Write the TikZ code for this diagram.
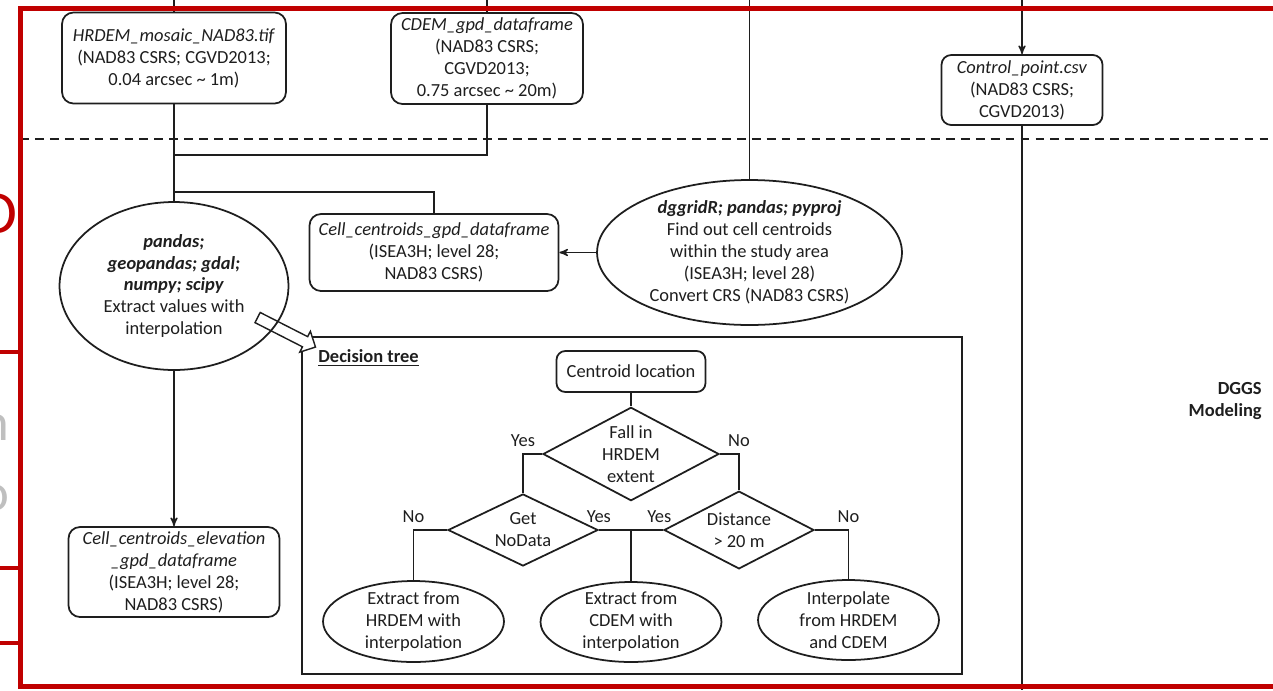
\documentclass[tikz,border=0pt]{standalone}
\usepackage{fontspec}
\setmainfont{Carlito}
\usepackage{tikz}
\usetikzlibrary{arrows,shapes,shapes.geometric,shapes.arrows}
\definecolor{framered}{RGB}{192,0,0}
\definecolor{ink}{RGB}{30,30,30}

\begin{document}
\begin{tikzpicture}[x=0.02cm,y=-0.02cm,>=stealth']
  \tikzstyle{every node}=[font=\fontsize{10.5}{12.5}\selectfont,text=ink]
  \tikzstyle{data}=[rectangle,rounded corners=6.5pt,draw=ink,line width=1pt,align=center,inner sep=0pt]
  \tikzstyle{process}=[ellipse,draw=ink,line width=1pt,align=center,inner sep=-3pt]
  \tikzstyle{check}=[diamond,draw=ink,line width=1pt,align=center,inner sep=-3pt]
  \tikzstyle{link}=[draw=ink,line width=0.8pt]
  \tikzstyle{tag}=[above=4pt,inner sep=0pt]
  \useasboundingbox (0,0) rectangle (1273,690);

  \coordinate (hrdemin) at (174,0);
  \coordinate (cdemin) at (487,0);
  \coordinate (gridin) at (749.5,0);
  \coordinate (ctrlin) at (1022,0);
  \coordinate (ctrlout) at (1022,690);
  \coordinate (join1) at (174,155);
  \coordinate (join2) at (174,192);

  \draw[draw=ink,line width=1pt,dash pattern=on 5pt off 3.5pt] (20,139) -- (1273,139);

  \node [data,minimum width=4.48cm,minimum height=1.82cm] (hrdem) at (174,58)
    {\textit{HRDEM\_mosaic\_NAD83.tif}\\(NAD83 CSRS; CGVD2013;\\0.04 arcsec \textasciitilde{} 1m)};
  \node [data,minimum width=3.84cm,minimum height=1.82cm] (cdem) at (487,58.5)
    {\textit{CDEM\_gpd\_dataframe}\\(NAD83 CSRS;\\CGVD2013;\\0.75 arcsec \textasciitilde{} 20m)};
  \node [data,rounded corners=5.5pt,minimum width=3.22cm,minimum height=1.4cm] (ctrl) at (1022,90)
    {\textit{Control\_point.csv}\\(NAD83 CSRS;\\CGVD2013)};
  \node [data,minimum width=4.98cm,minimum height=1.54cm] (cellgpd) at (434,252.5)
    {\textit{Cell\_centroids\_gpd\_dataframe}\\(ISEA3H; level 28;\\NAD83 CSRS)};
  \node [process,minimum width=6.1cm,minimum height=2.9cm] (grid) at (749.5,252.5)
    {\textbf{\textit{dggridR; pandas; pyproj}}\\Find out cell centroids\\within the study area\\(ISEA3H; level 28)\\Convert CRS (NAD83 CSRS)};

  \draw[draw=ink,line width=0.8pt] (302,337) rectangle (962,674);
  \node [single arrow,draw=ink,line width=0.8pt,fill=white,minimum height=1.3cm,
         single arrow head extend=0.12cm,inner sep=0.1cm,rotate=-27] (hint) at (284,331) {};

  \node [process,minimum width=4.58cm,minimum height=3.36cm] (extract) at (174,286)
    {\textbf{\textit{pandas;}}\\\textbf{\textit{geopandas; gdal;}}\\\textbf{\textit{numpy; scipy}}\\Extract values with\\interpolation};
  \node [data,minimum width=4.22cm,minimum height=1.8cm] (elev) at (174,572)
    {\textit{Cell\_centroids\_elevation}\\\textit{\_gpd\_dataframe}\\(ISEA3H; level 28;\\NAD83 CSRS)};

  \node [anchor=west,inner sep=0pt] (treetitle) at (318,358) {\underline{\textbf{Decision tree}}};
  \node [data,rounded corners=5pt,minimum width=2.98cm,minimum height=0.82cm] (cloc) at (631,371.5) {Centroid location};
  \node [check,minimum width=3.52cm,minimum height=1.56cm] (fall) at (631,454) {Fall in\\HRDEM\\extent};
  \node [check,minimum width=3cm,minimum height=1.44cm] (nodata) at (523,530) {Get\\NoData};
  \node [check,minimum width=3cm,minimum height=1.44cm] (dist) at (739,530) {Distance\\> 20 m};
  \node [process,minimum width=3.62cm,minimum height=1.62cm] (hrx) at (413.5,621.5) {Extract from\\HRDEM with\\interpolation};
  \node [process,minimum width=3.62cm,minimum height=1.6cm] (cdx) at (631,622) {Extract from\\CDEM with\\interpolation};
  \node [process,minimum width=3.62cm,minimum height=1.6cm] (interp) at (848.5,620) {Interpolate\\from HRDEM\\and CDEM};

  \node [anchor=east,align=right,inner sep=0pt,font=\fontsize{10.5}{12.5}\selectfont\bfseries] (dggs) at (1262,401) {DGGS\\Modeling};

  \draw[link] (hrdemin) -- (hrdem.north);
  \draw[link] (cdemin) -- (cdem.north);
  \draw[link] (gridin) -- (grid.north);
  \draw[link,->] (ctrlin) -- (ctrl.north);
  \draw[link] (ctrl.south) -- (ctrlout);
  \draw[link] (hrdem.south) -- (extract.north);
  \draw[link] (cdem.south) |- (join1);
  \draw[link] (join2) -| (cellgpd.north);
  \draw[link,->] (grid.west) -- (cellgpd.east);
  \draw[link,->] (extract.south) -- (elev.north);

  \draw[link] (cloc.south) -- (fall.north);
  \draw[link] (fall.west) -| node[tag,pos=0.5] {Yes} (nodata.north);
  \draw[link] (fall.east) -| node[tag,pos=0.5] {No} (dist.north);
  \draw[link] (nodata.west) -| node[tag,pos=0.5] {No} (hrx.north);
  \draw[link] (nodata.east) -| node[tag,pos=0] {Yes} (cdx.north);
  \draw[link] (dist.west) -| node[tag,pos=0.06] {Yes} (cdx.north);
  \draw[link] (dist.east) -| node[tag,pos=0.5] {No} (interp.north);

  \node [text=framered,font=\fontsize{35}{40}\selectfont,anchor=base east,inner sep=0pt] (cutd) at (18,233) {D};
  \node [text=black!25,font=\fontsize{30}{36}\selectfont,anchor=base east,inner sep=0pt] (cutn) at (10,440) {n};
  \node [text=black!25,font=\fontsize{30}{36}\selectfont,anchor=base east,inner sep=0pt] (cuto) at (10,510) {o};
  \draw[framered,line width=0.09cm] (-5,352) -- (20,352);
  \draw[framered,line width=0.09cm] (-5,568) -- (20,568);
  \draw[framered,line width=0.09cm] (-5,643) -- (20,643);
  \draw[framered,line width=0.1cm] (20,8) rectangle (1300,686);
\end{tikzpicture}
\end{document}
